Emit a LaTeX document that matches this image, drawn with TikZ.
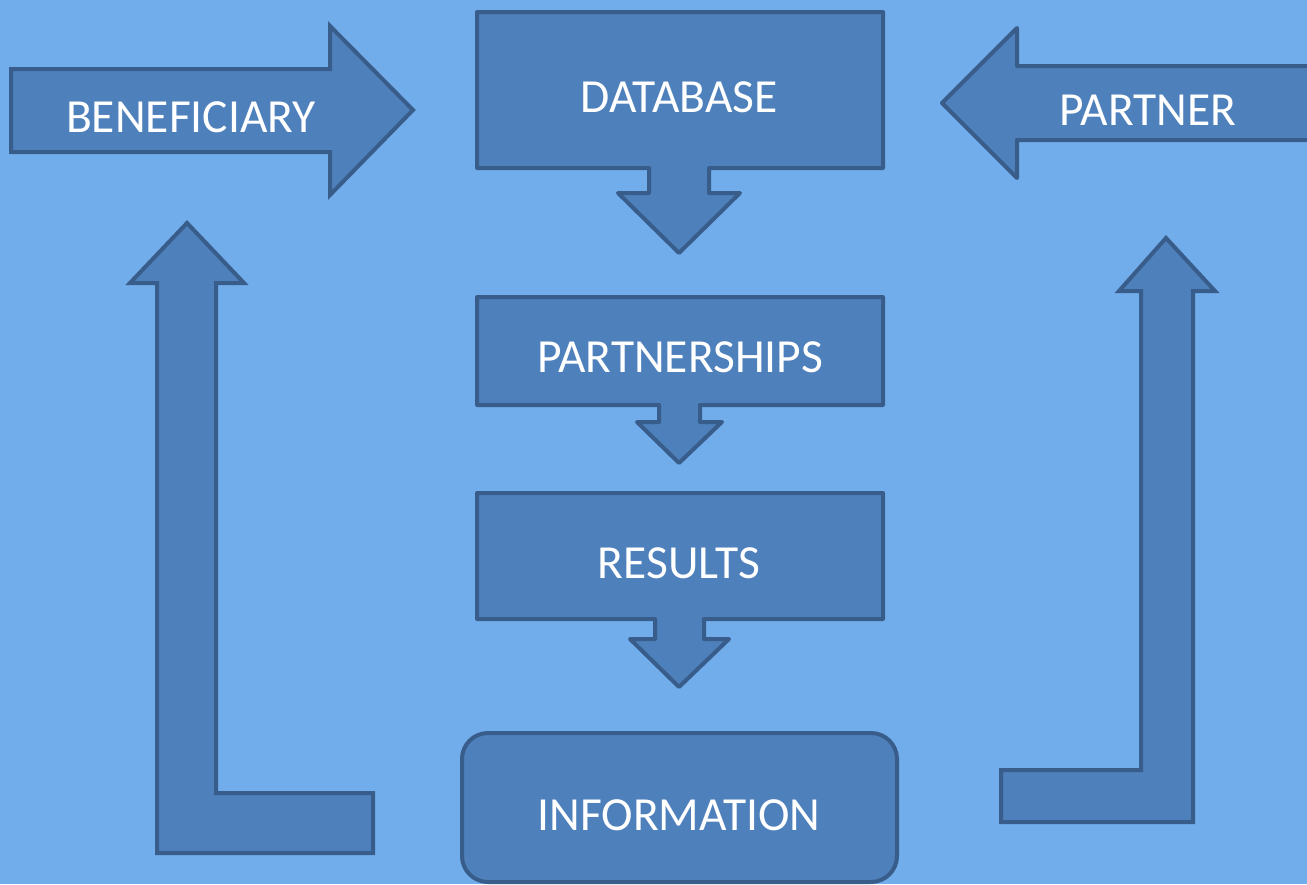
\documentclass[tikz,border=0pt]{standalone}
\usepackage{fontspec}
\setmainfont{Carlito}
\definecolor{bgblue}{RGB}{114,173,235}
\definecolor{shapefill}{RGB}{78,128,188}
\definecolor{shapeline}{RGB}{56,93,138}
\tikzset{
  blockshape/.style={fill=shapefill, draw=shapeline, line width=4pt, line join=round},
  bentshape/.style={fill=shapefill, draw=shapeline, line width=4pt, line join=miter},
  lbl/.style={text=white, font=\fontsize{47.5}{47.5}\selectfont, inner sep=0pt, anchor=center}
}
\begin{document}
\begin{tikzpicture}[x=1pt,y=-1pt]
\fill[bgblue] (0,0) rectangle (1307,884);
\useasboundingbox (0,0) rectangle (1307,884);
% BENEFICIARY arrow
\draw[bentshape] (11,69) -- (330,69) -- (330,26) -- (413,110) -- (330,195) -- (330,152) -- (11,152) -- cycle;
\node[lbl] (beneficiary) at (191,117) {BENEFICIARY};
% PARTNER arrow
\draw[blockshape] (1312,66) -- (1017,66) -- (1017,28) -- (942,103) -- (1017,178) -- (1017,140) -- (1312,140);
\node[lbl] (partner) at (1148,110) {PARTNER};
% DATABASE block with down arrow
\draw[blockshape] (477,12) -- (883,12) -- (883,168) -- (709,168) -- (709,193) -- (740,193) -- (679,253) -- (618,193) -- (649,193) -- (649,168) -- (477,168) -- cycle;
\node[lbl] (database) at (679,97) {DATABASE};
% PARTNERSHIPS block
\draw[blockshape] (477,297) -- (883,297) -- (883,405) -- (700,405) -- (700,422) -- (722,422) -- (679,463) -- (637,422) -- (659,422) -- (659,405) -- (477,405) -- cycle;
\node[lbl] (partnerships) at (680,357) {PARTNERSHIPS};
% RESULTS block
\draw[blockshape] (477,493) -- (883,493) -- (883,619) -- (704,619) -- (704,639) -- (729,639) -- (679,687) -- (630,639) -- (655,639) -- (655,619) -- (477,619) -- cycle;
\node[lbl] (results) at (679,563) {RESULTS};
% INFORMATION rounded box
\draw[blockshape, rounded corners=26pt] (462,733) rectangle (897,882);
\node[lbl] (information) at (679,815) {INFORMATION};
% left bent arrow (up)
\draw[bentshape] (157,853) -- (373,853) -- (373,793) -- (216,793) -- (216,283) -- (244,283) -- (187,223) -- (130,283) -- (157,283) -- cycle;
% right bent arrow (up)
\draw[bentshape] (1001,822) -- (1193,822) -- (1193,291) -- (1215,291) -- (1166,238) -- (1119,291) -- (1141,291) -- (1141,770) -- (1001,770) -- cycle;
\end{tikzpicture}
\end{document}
